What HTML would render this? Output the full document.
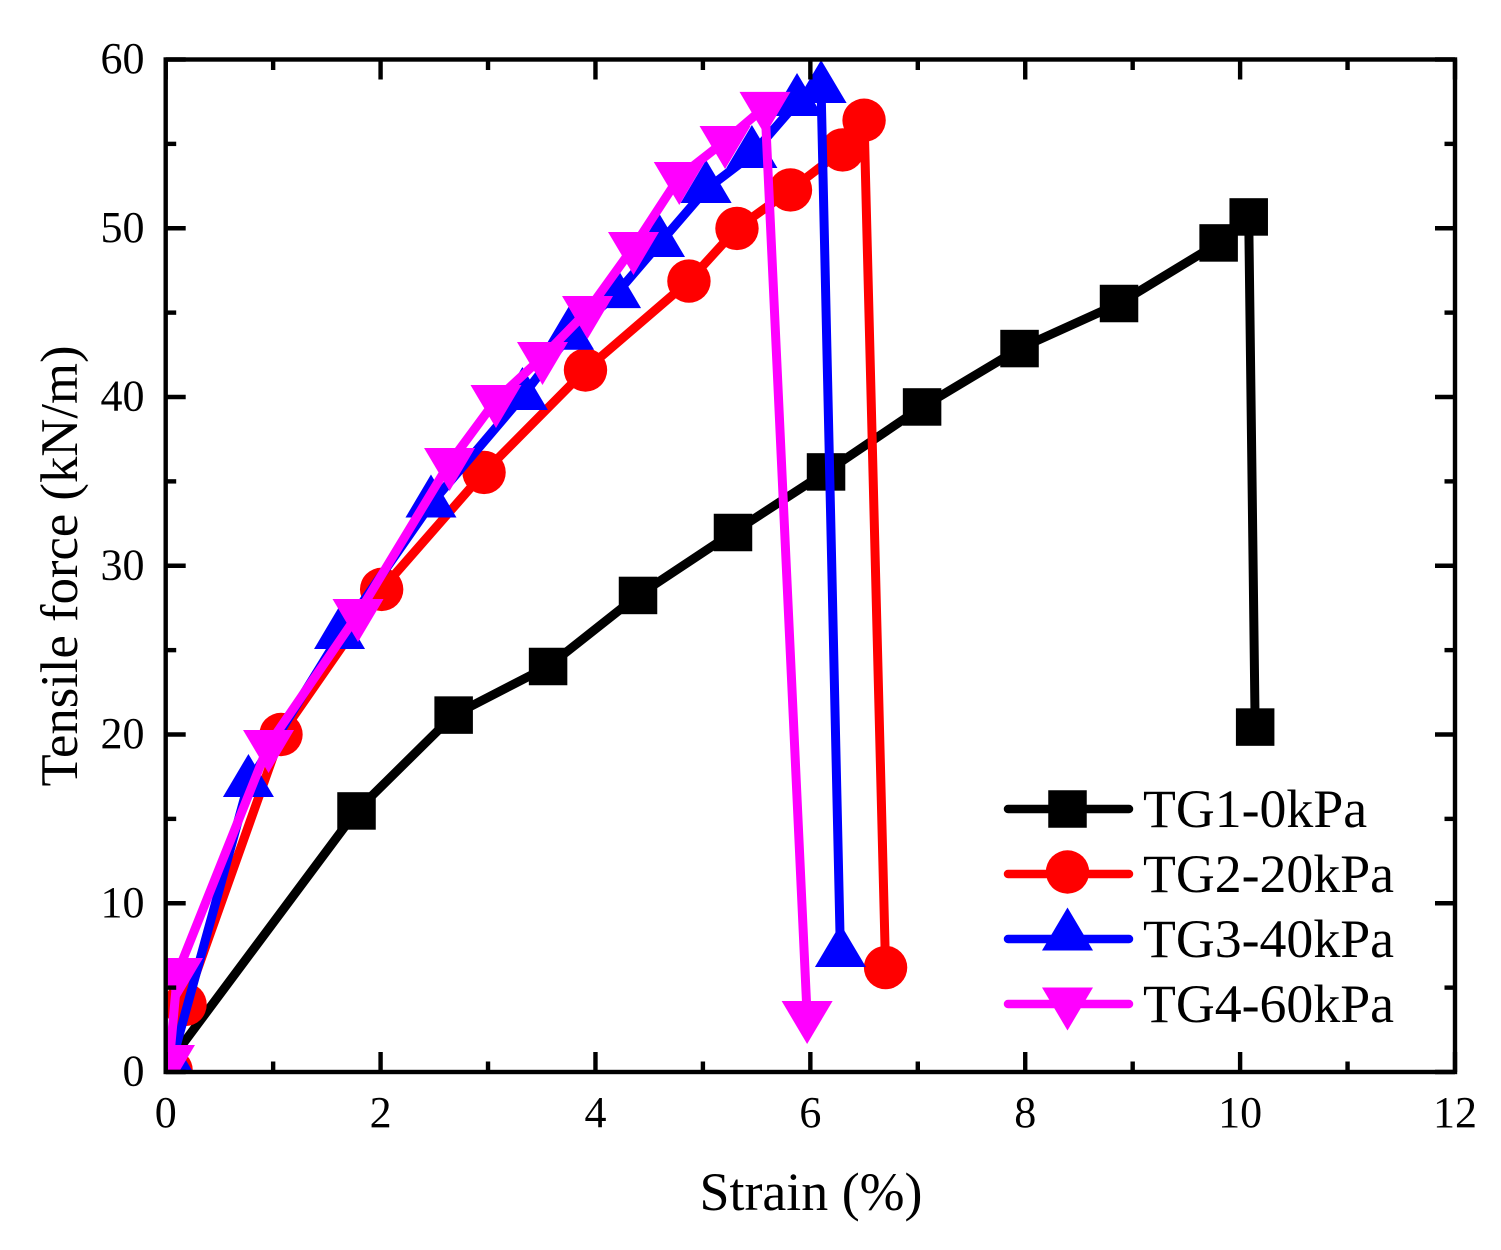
<!DOCTYPE html>
<html>
<head>
<meta charset="utf-8">
<title>Tensile force vs strain</title>
<style>
html,body{margin:0;padding:0;background:#fff;}
svg{display:block;}
text{font-family:"Liberation Serif",serif;fill:#000;}
</style>
</head>
<body>
<svg id="chart" xmlns="http://www.w3.org/2000/svg" width="1501" height="1250" viewBox="0 0 1501 1250">
<defs><clipPath id="plot-clip"><rect x="165" y="40" width="1291" height="1030"/></clipPath></defs>
<g id="series-layer" clip-path="url(#plot-clip)"></g>
<g id="axes-layer"></g>
<g id="legend-layer"></g>
<text x="811" y="1210" font-size="53.9" text-anchor="middle">Strain (%)</text>
<text transform="translate(77,566) rotate(-90)" font-size="52.7" text-anchor="middle">Tensile force (kN/m)</text>
</svg>
<script>
const xTicks = [0, 2, 4, 6, 8, 10, 12];
const yTicks = [0, 10, 20, 30, 40, 50, 60];
const xMinorTicks = [1, 3, 5, 7, 9, 11];
const yMinorTicks = [5, 15, 25, 35, 45, 55];
const xDomain = [0, 12];
const yDomain = [0, 60];

const seriesNames = ['TG1-0kPa', 'TG2-20kPa', 'TG3-40kPa', 'TG4-60kPa'];

const tg1Strain = [0.0, 1.776, 2.68, 3.559, 4.396, 5.28, 6.146, 7.04, 7.947, 8.873, 9.80, 10.08, 10.14];
const tg1Force = [0.3, 15.47, 21.15, 24.03, 28.24, 31.97, 35.56, 39.41, 42.87, 45.54, 49.13, 50.67, 20.44];

const tg2Strain = [0.05, 0.18, 1.073, 2.01, 2.963, 3.907, 4.87, 5.317, 5.815, 6.30, 6.50, 6.70];
const tg2Force = [0.1, 4.0, 20.0, 28.6, 35.53, 41.6, 46.87, 49.99, 52.27, 54.64, 56.4, 6.19];

const tg3Strain = [0.05, 0.77, 1.618, 2.469, 3.32, 3.75, 4.187, 4.596, 5.03, 5.456, 5.876, 6.10, 6.28];
const tg3Force = [0.44, 17.1, 25.87, 33.66, 40.03, 43.6, 46.07, 49.1, 52.3, 54.37, 57.45, 58.22, 7.02];

const tg4Strain = [0.035, 0.11, 0.957, 1.79, 2.642, 3.074, 3.507, 3.926, 4.354, 4.78, 5.206, 5.578, 5.97];
const tg4Force = [0.71, 5.87, 19.38, 27.14, 36.09, 39.82, 42.37, 45.1, 48.89, 53.04, 55.17, 57.19, 3.32];

const strainSeries = [tg1Strain, tg2Strain, tg3Strain, tg4Strain];
const forceSeries = [tg1Force, tg2Force, tg3Force, tg4Force];
const seriesColors = ['#000000', '#ff0000', '#0000ff', '#ff00ff'];
const seriesMarkers = ['square', 'circle', 'up', 'down'];

const NS = 'http://www.w3.org/2000/svg';
const plot = {left: 165.7, right: 1455, top: 59.5, bottom: 1072};
function xScale(v) { return plot.left + (v - xDomain[0]) / (xDomain[1] - xDomain[0]) * (plot.right - plot.left); }
function yScale(v) { return plot.bottom - (v - yDomain[0]) / (yDomain[1] - yDomain[0]) * (plot.bottom - plot.top); }

function make(tag, attrs, parent) {
  const el = document.createElementNS(NS, tag);
  for (const k in attrs) el.setAttribute(k, attrs[k]);
  parent.appendChild(el);
  return el;
}

function markerShape(kind, cx, cy, color, parent) {
  if (kind === 'square') {
    return make('rect', {x: cx - 19.25, y: cy - 18.75, width: 38.5, height: 37.5, fill: color}, parent);
  }
  if (kind === 'circle') {
    return make('circle', {cx: cx, cy: cy, r: 21.7, fill: color}, parent);
  }
  if (kind === 'up') {
    return make('polygon', {points: (cx - 25.5) + ',' + (cy + 13.5) + ' ' + (cx + 25.5) + ',' + (cy + 13.5) + ' ' + cx + ',' + (cy - 29.5), fill: color}, parent);
  }
  return make('polygon', {points: (cx - 25.5) + ',' + (cy - 15) + ' ' + (cx + 25.5) + ',' + (cy - 15) + ' ' + cx + ',' + (cy + 28), fill: color}, parent);
}

const seriesLayer = document.getElementById('series-layer');
seriesNames.forEach(function (name, s) {
  const group = make('g', {}, seriesLayer);
  
  
  const xs = strainSeries[s];
  const ys = forceSeries[s];
  const pts = xs.map(function (x, i) { return xScale(x) + ',' + yScale(ys[i]); }).join(' ');
  const line = make('polyline', {points: pts, fill: 'none', stroke: seriesColors[s], 'stroke-width': 9, 'stroke-linejoin': 'round', 'stroke-linecap': 'round'}, group);
  
  
  xs.forEach(function (x, i) {
    const m = markerShape(seriesMarkers[s], xScale(x), yScale(ys[i]), seriesColors[s], group);
    
    
  });
});

const axes = document.getElementById('axes-layer');
const frame = make('rect', {x: plot.left, y: plot.top, width: plot.right - plot.left, height: plot.bottom - plot.top, fill: 'none', stroke: '#000', 'stroke-width': 4.4}, axes);



function tick(x1, y1, x2, y2, name) {
  const t = make('line', {x1: x1, y1: y1, x2: x2, y2: y2, stroke: '#000', 'stroke-width': 4.4}, axes);
  
  
}

xTicks.forEach(function (v) {
  const x = xScale(v);
  tick(x, plot.bottom, x, plot.bottom - 20, 'x-major-tick');
  tick(x, plot.top, x, plot.top + 20, 'x-major-tick-top');
  const label = make('text', {x: x, y: 1127, 'font-size': 44, 'text-anchor': 'middle'}, axes);
  label.textContent = v;
  
  
});
xMinorTicks.forEach(function (v) {
  const x = xScale(v);
  tick(x, plot.bottom, x, plot.bottom - 10.5, 'x-minor-tick');
  tick(x, plot.top, x, plot.top + 10.5, 'x-minor-tick-top');
});
yTicks.forEach(function (v) {
  const y = yScale(v);
  tick(plot.left, y, plot.left + 20, y, 'y-major-tick');
  tick(plot.right, y, plot.right - 20, y, 'y-major-tick-right');
  const label = make('text', {x: 144.5, y: y + 13.5, 'font-size': 44, 'text-anchor': 'end'}, axes);
  label.textContent = v;
  
  
});
yMinorTicks.forEach(function (v) {
  const y = yScale(v);
  tick(plot.left, y, plot.left + 10.5, y, 'y-minor-tick');
  tick(plot.right, y, plot.right - 10.5, y, 'y-minor-tick-right');
});

const legendLayer = document.getElementById('legend-layer');
const legendLineY = [809, 874, 939, 1004];
const legendMarkerY = [809, 872, 937, 1002.5];
seriesNames.forEach(function (name, s) {
  const entry = make('g', {}, legendLayer);
  
  
  make('line', {x1: 1008, x2: 1129, y1: legendLineY[s], y2: legendLineY[s], stroke: seriesColors[s], 'stroke-width': 8.5, 'stroke-linecap': 'round'}, entry);
  markerShape(seriesMarkers[s], 1067.5, legendMarkerY[s], seriesColors[s], entry);
  const label = make('text', {x: 1143, y: legendLineY[s] + 18, 'font-size': 53.8}, entry);
  label.textContent = name;
  
  
});
</script>
</body>
</html>
